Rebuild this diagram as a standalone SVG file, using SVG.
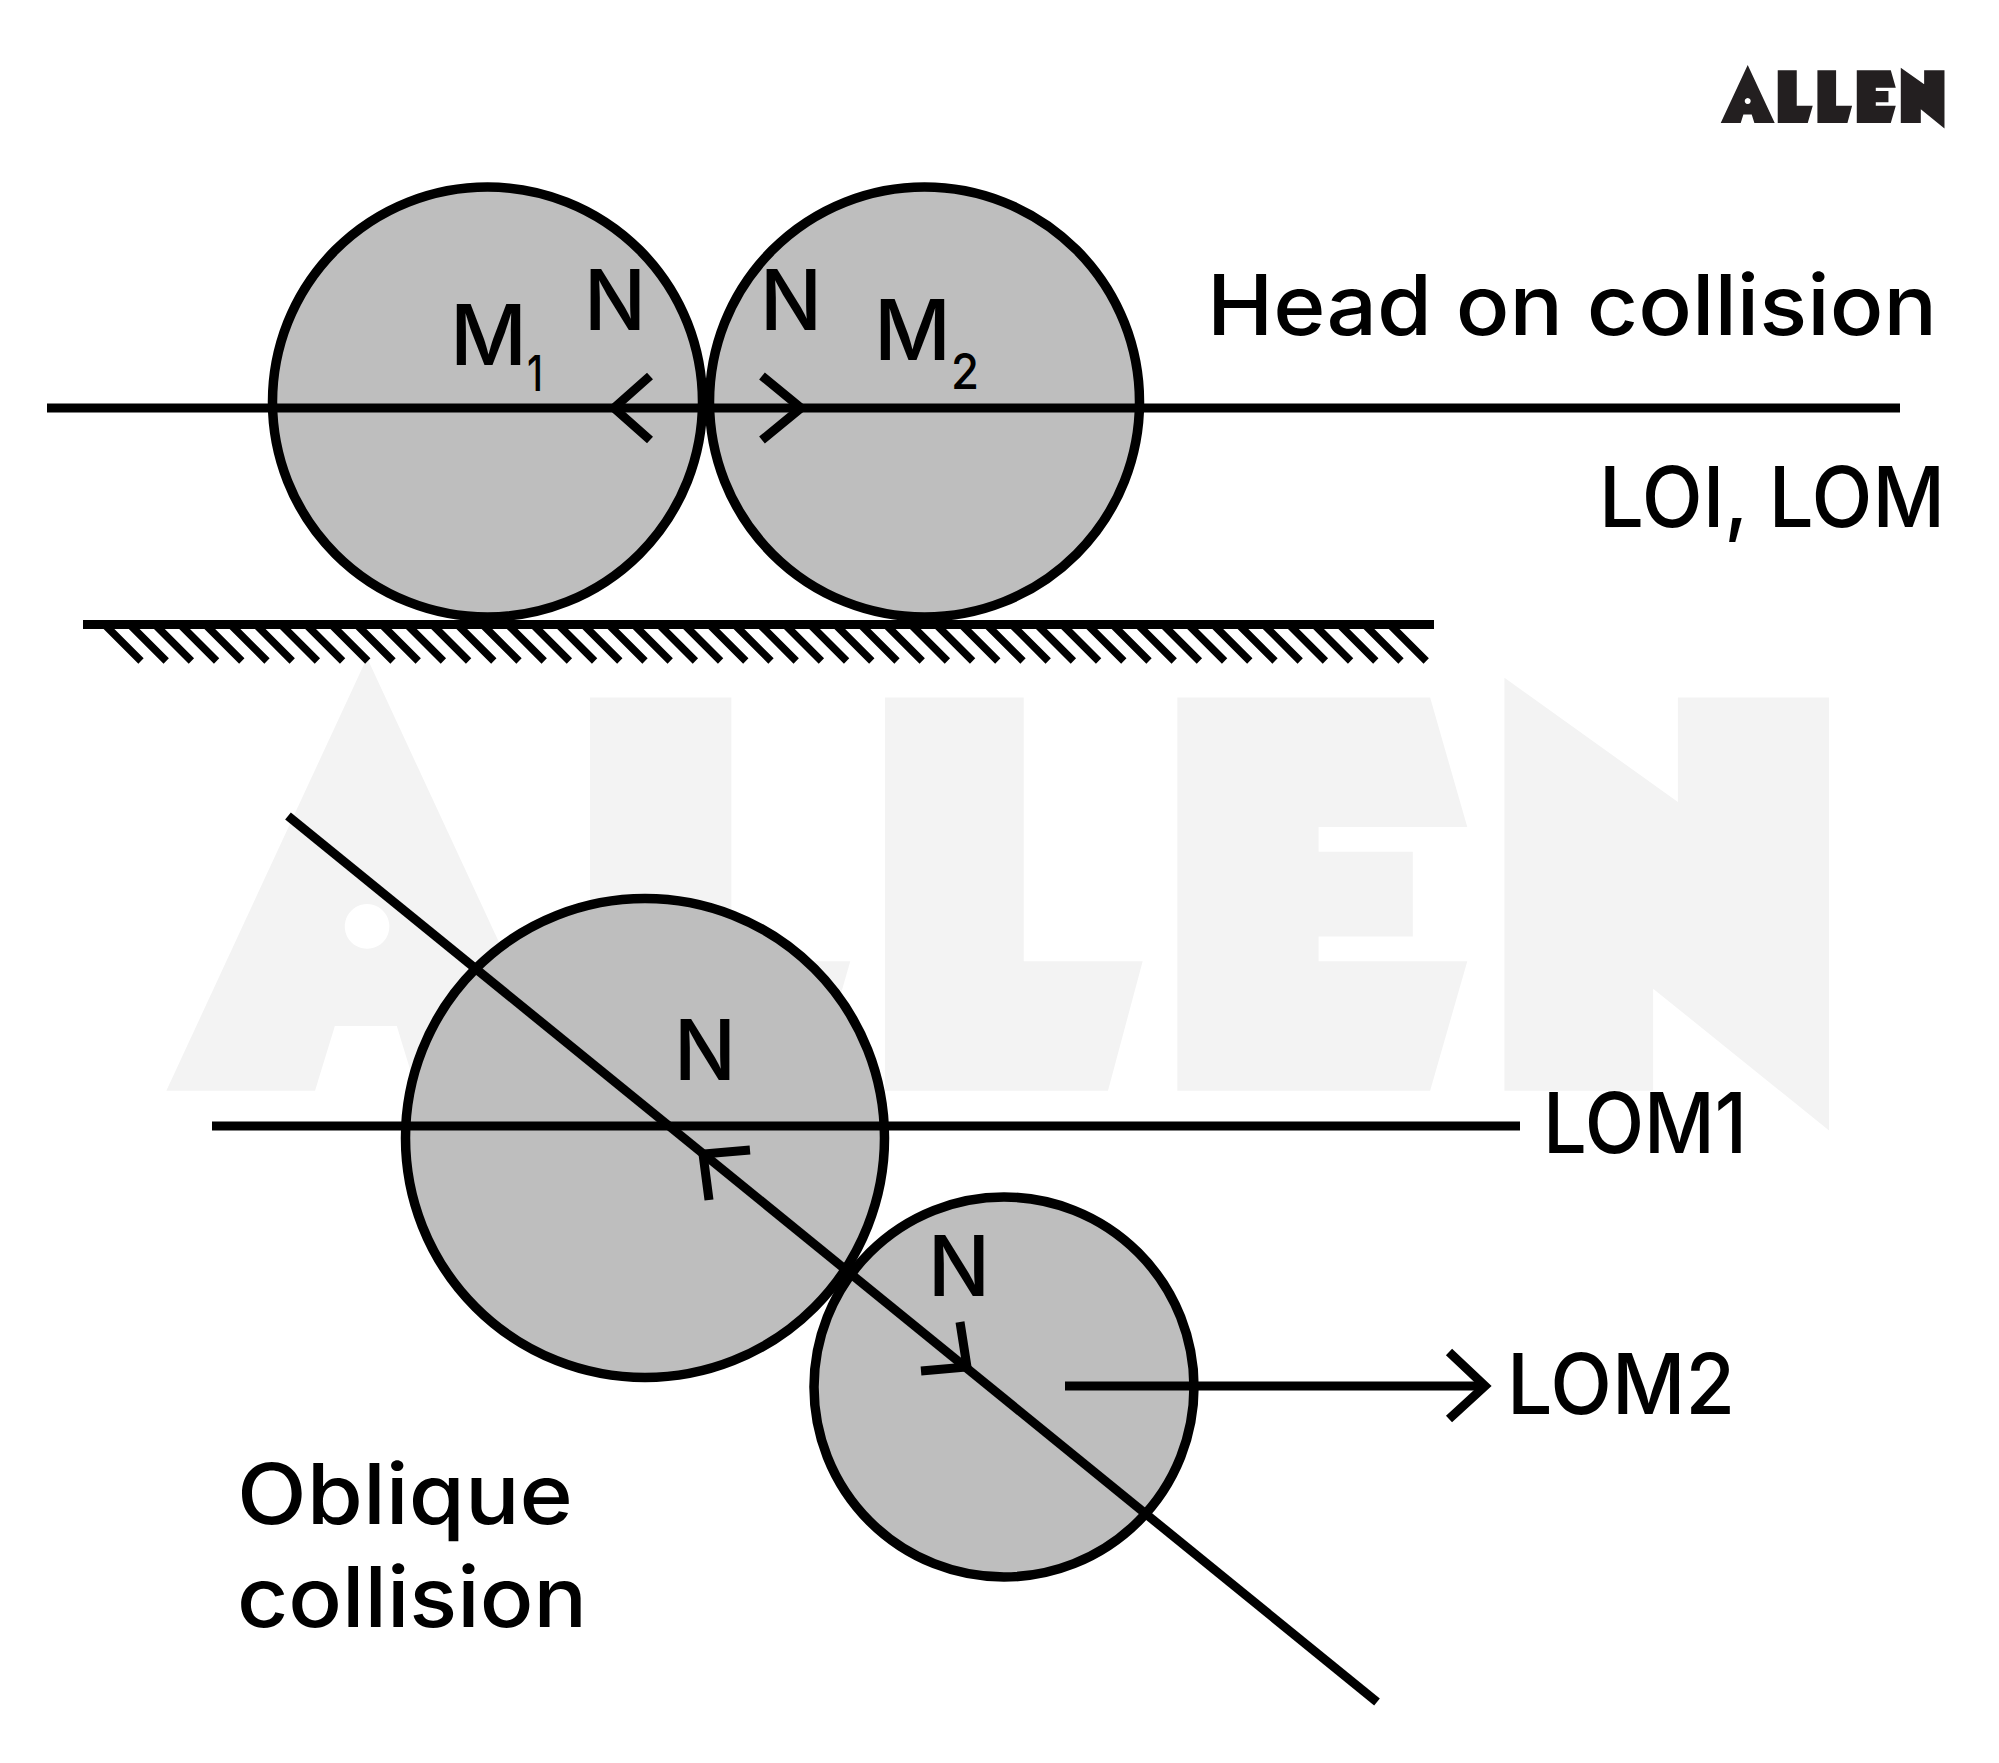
<svg xmlns="http://www.w3.org/2000/svg" width="1999" height="1763" viewBox="0 0 1999 1763">
<style>
.ball{fill:#bebebe;stroke:#000;stroke-width:9.5}
.ln{fill:none;stroke:#000;stroke-width:9}
.hatch{fill:none;stroke:#000;stroke-width:7.5}
text{font-family:"Inter","Liberation Sans",sans-serif;fill:#000;font-size:84px;font-weight:500}
.sub{font-size:50px}
</style>
<defs>
<g id="allen-shape">
<path fill-rule="evenodd" d="M293 102L374 276H313L305 250H280L272 276H212ZM293 201a9 9 0 1 0 .01 0Z"/>
<path d="M383 118H440V224H488L473 276H383Z"/>
<path d="M502 118H558V224H606L592 276H502Z"/>
<path d="M620 118H722L737 170H677V180H715V214H677V224H737L722 276H620Z"/>
<path d="M752 110L822 160V118H883V292L812 235V276H752Z"/>
</g>
</defs>
<rect width="1999" height="1763" fill="#fff"/>
<use id="watermark" href="#allen-shape" fill="#f3f3f3" transform="translate(-359 404) scale(2.478 2.488)"/>
<use id="logo" href="#allen-shape" fill="#231f20" transform="translate(1650 31) scale(.3335)"/>
<g id="ball-m1"><circle class="ball" cx="487.5" cy="402" r="215"/></g>
<g id="ball-m2"><circle class="ball" cx="924.5" cy="402" r="215"/></g>
<g id="ball-3"><circle class="ball" cx="645" cy="1138" r="239.5"/></g>
<g id="ball-4"><circle class="ball" cx="1004" cy="1387" r="190"/></g>
<g id="connectors">
<path class="ln" d="M47 408H1900"/>
<path class="ln" d="M650 376L614 408L650 440M762 376L801 408L762 440"/>
<path class="ln" d="M83 624.5H1434"/>
<path class="hatch" d="M105 625l36 36m-10.8 -36l36 36m-10.8 -36l36 36m-10.8 -36l36 36m-10.8 -36l36 36m-10.8 -36l36 36m-10.8 -36l36 36m-10.8 -36l36 36m-10.8 -36l36 36m-10.8 -36l36 36m-10.8 -36l36 36m-10.8 -36l36 36m-10.8 -36l36 36m-10.8 -36l36 36m-10.8 -36l36 36m-10.8 -36l36 36m-10.8 -36l36 36m-10.8 -36l36 36m-10.8 -36l36 36m-10.8 -36l36 36m-10.8 -36l36 36m-10.8 -36l36 36m-10.8 -36l36 36m-10.8 -36l36 36m-10.8 -36l36 36m-10.8 -36l36 36m-10.8 -36l36 36m-10.8 -36l36 36m-10.8 -36l36 36m-10.8 -36l36 36m-10.8 -36l36 36m-10.8 -36l36 36m-10.8 -36l36 36m-10.8 -36l36 36m-10.8 -36l36 36m-10.8 -36l36 36m-10.8 -36l36 36m-10.8 -36l36 36m-10.8 -36l36 36m-10.8 -36l36 36m-10.8 -36l36 36m-10.8 -36l36 36m-10.8 -36l36 36m-10.8 -36l36 36m-10.8 -36l36 36m-10.8 -36l36 36m-10.8 -36l36 36m-10.8 -36l36 36m-10.8 -36l36 36m-10.8 -36l36 36m-10.8 -36l36 36m-10.8 -36l36 36"/>
<path class="ln" d="M288 816L1377 1702"/>
<path class="ln" d="M212 1126H1520"/>
<path class="ln" d="M750 1150L703 1154L709 1200"/>
<path class="ln" d="M960 1322L967 1367L921 1371"/>
<path class="ln" d="M1065 1386H1484"/>
<path class="ln" d="M1449 1352L1485 1386L1449 1419"/>
</g>
<g id="labels">
<text x="1207" y="335" textLength="730" lengthAdjust="spacingAndGlyphs">Head on collision</text>
<text x="1599" y="527" textLength="346" lengthAdjust="spacingAndGlyphs">LOI, LOM</text>
<text x="450" y="365" textLength="77" lengthAdjust="spacingAndGlyphs">M</text>
<text class="sub" x="527" y="391" textLength="16" lengthAdjust="spacingAndGlyphs">1</text>
<text x="874" y="360" textLength="77" lengthAdjust="spacingAndGlyphs">M</text>
<text class="sub" x="951" y="389" textLength="28" lengthAdjust="spacingAndGlyphs">2</text>
<text x="584" y="330" textLength="62" lengthAdjust="spacingAndGlyphs">N</text>
<text x="760" y="330" textLength="62" lengthAdjust="spacingAndGlyphs">N</text>
<text x="674" y="1080" textLength="62" lengthAdjust="spacingAndGlyphs">N</text>
<text x="928" y="1296" textLength="62" lengthAdjust="spacingAndGlyphs">N</text>
<text x="1543" y="1153" textLength="204" lengthAdjust="spacingAndGlyphs">LOM1</text>
<text x="1507" y="1414" textLength="228" lengthAdjust="spacingAndGlyphs">LOM2</text>
<text x="237" y="1524" textLength="336" lengthAdjust="spacingAndGlyphs">Oblique</text>
<text x="237" y="1627" textLength="350" lengthAdjust="spacingAndGlyphs">collision</text>
</g>
</svg>
